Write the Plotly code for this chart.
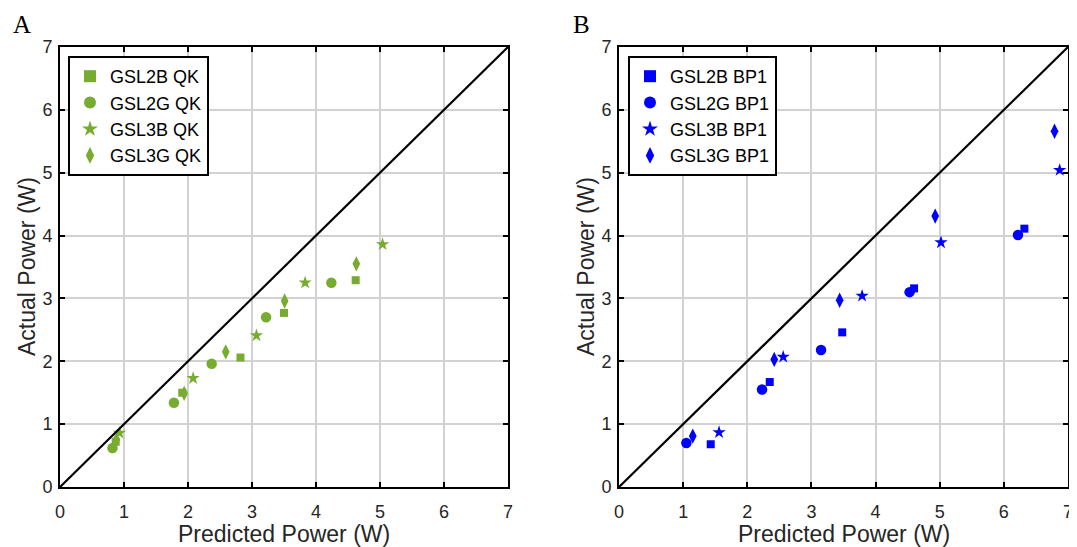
import plotly.graph_objects as go

# page body adds an 8px margin, so the figure is shrunk and shifted by that much
OFF = 8
W, H = 1077 - OFF, 547 - OFF

# Panel A (QK)
qk_2b_x = [0.87, 1.91, 2.82, 3.50, 4.62]
qk_2b_y = [0.72, 1.50, 2.06, 2.77, 3.29]
qk_2g_x = [0.82, 1.78, 2.37, 3.22, 4.24]
qk_2g_y = [0.62, 1.34, 1.96, 2.70, 3.25]
qk_3b_x = [0.93, 2.08, 3.07, 3.83, 5.04]
qk_3b_y = [0.86, 1.73, 2.41, 3.25, 3.86]
qk_3g_x = [0.88, 1.94, 2.59, 3.51, 4.63]
qk_3g_y = [0.75, 1.49, 2.15, 2.96, 3.55]

# Panel B (BP1)
bp_2b_x = [1.43, 2.35, 3.48, 4.60, 6.32]
bp_2b_y = [0.68, 1.67, 2.46, 3.16, 4.11]
bp_2g_x = [1.05, 2.23, 3.15, 4.53, 6.22]
bp_2g_y = [0.70, 1.55, 2.18, 3.10, 4.01]
bp_3b_x = [1.56, 2.56, 3.79, 5.02, 6.87]
bp_3b_y = [0.87, 2.07, 3.04, 3.89, 5.04]
bp_3g_x = [1.15, 2.42, 3.44, 4.93, 6.79]
bp_3g_y = [0.81, 2.03, 2.97, 4.31, 5.66]

ref_line = [0, 7]
ticks = [0, 1, 2, 3, 4, 5, 6, 7]

GREEN = "#77AC30"
BLUE = "#0000FF"

symbols = ["square", "circle", "star", "diamond-tall"]
sizes = [8, 10.5, 10, 11]
names = ["GSL2B", "GSL2G", "GSL3B", "GSL3G"]


def px(x):
    return (x - OFF) / W


def py(y):
    return 1 - (y - OFF) / H


fig = go.Figure()

# (data x axis, label x axis, y axis, legend, colour, tag, series)
panels = [
    ("x", "x3", "y", "legend", GREEN, "QK",
     [(qk_2b_x, qk_2b_y), (qk_2g_x, qk_2g_y), (qk_3b_x, qk_3b_y), (qk_3g_x, qk_3g_y)]),
    ("x2", "x4", "y2", "legend2", BLUE, "BP1",
     [(bp_2b_x, bp_2b_y), (bp_2g_x, bp_2g_y), (bp_3b_x, bp_3b_y), (bp_3g_x, bp_3g_y)]),
]

for xa, xlab, ya, leg, col, tag, series in panels:
    for i, (sx, sy) in enumerate(series):
        fig.add_trace(go.Scatter(
            x=sx, y=sy, mode="markers", name=f"{names[i]} {tag}",
            marker=dict(symbol=symbols[i], size=sizes[i], color=col, line=dict(width=0)),
            xaxis=xa, yaxis=ya, legend=leg))
    # 1:1 line lives on the overlay axis (same range) so that axis gets drawn
    fig.add_trace(go.Scatter(x=ref_line, y=ref_line, mode="lines",
                             line=dict(color="black", width=2.2),
                             showlegend=False, xaxis=xlab, yaxis=ya, hoverinfo="skip"))

# panel boxes in page pixels
left_x = (60, 508)
right_x = (619, 1068)
top_px, bot_px = 47, 487
ydom = [py(bot_px), py(top_px)]

sans = "Liberation Sans, Arial"
serif = "Liberation Serif, Times New Roman"
tick_font = dict(family=sans, size=18, color="#262626")

axis_common = dict(range=[0, 7], tickvals=ticks, showgrid=True, gridcolor="#d2d2d2",
                   gridwidth=1.5, zeroline=False, showline=True, linecolor="black",
                   linewidth=2, mirror="ticks", ticks="inside", ticklen=5,
                   tickwidth=1.5, tickcolor="black", automargin=False, tickfont=tick_font)

# overlay x axes that only carry the tick labels, pushed a little lower
label_axis = dict(range=[0, 7], tickvals=ticks, showgrid=False, zeroline=False, showline=False,
                  ticks="outside", ticklen=8, tickcolor="rgba(0,0,0,0)", automargin=False,
                  tickfont=tick_font, side="bottom")

title_font = dict(family=sans, size=23, color="#262626")
legend_style = dict(yanchor="top", xanchor="left", bgcolor="white", bordercolor="black",
                    borderwidth=2, tracegroupgap=0, itemsizing="constant",
                    font=dict(family=sans, size=18, color="black"))

annotations = []
for (x0, x1), letter in [(left_x, "A"), (right_x, "B")]:
    annotations.append(dict(text="Predicted Power (W)", x=px((x0 + x1) / 2), y=py(534),
                            xanchor="center", yanchor="middle",
                            xref="paper", yref="paper", showarrow=False, font=title_font))
    annotations.append(dict(text="Actual Power (W)", x=px(x0 - 33), y=py((top_px + bot_px) / 2),
                            xanchor="center", yanchor="middle",
                            xref="paper", yref="paper", showarrow=False, textangle=-90,
                            font=title_font))
    annotations.append(dict(text=letter, x=px(x0 - 38), y=py(25), xanchor="center", yanchor="middle",
                            xref="paper", yref="paper", showarrow=False,
                            font=dict(family=serif, size=25, color="black")))

fig.update_layout(
    width=W, height=H, margin=dict(l=0, r=0, t=0, b=0),
    plot_bgcolor="white", paper_bgcolor="white",
    xaxis=dict(domain=[px(left_x[0]), px(left_x[1])], anchor="y", showticklabels=False, **axis_common),
    yaxis=dict(domain=ydom, anchor="x", ticklabelstandoff=2, **axis_common),
    xaxis2=dict(domain=[px(right_x[0]), px(right_x[1])], anchor="y2", showticklabels=False, **axis_common),
    yaxis2=dict(domain=ydom, anchor="x2", ticklabelstandoff=2, **axis_common),
    xaxis3=dict(domain=[px(left_x[0]), px(left_x[1])], anchor="y", overlaying="x", **label_axis),
    xaxis4=dict(domain=[px(right_x[0]), px(right_x[1])], anchor="y2", overlaying="x2", **label_axis),
    legend=dict(x=px(68), y=py(56), **legend_style),
    legend2=dict(x=px(628), y=py(56), **legend_style),
    annotations=annotations,
)

fig.write_html("out.html")
